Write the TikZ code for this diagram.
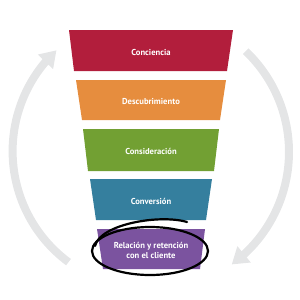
\documentclass[tikz,border=0pt]{standalone}
\usepackage{fontspec}
\setmainfont{PT Sans}
\usetikzlibrary{arrows.meta,bending,calc}
\definecolor{cA}{HTML}{B21E3C}
\definecolor{cB}{HTML}{E68D3E}
\definecolor{cC}{HTML}{72A033}
\definecolor{cD}{HTML}{357F9E}
\definecolor{cE}{HTML}{7B539F}
\definecolor{ring}{HTML}{E4E5E6}
\tikzset{
  lbl/.style={text=white,font=\bfseries\fontsize{8.6}{10}\selectfont,align=center,inner sep=0pt},
  ringarrow/.style={draw=ring,line width=8pt,-{Triangle[width=20pt,length=16pt,flex]}},
  loopline/.style={draw=black,line width=2.2pt,line cap=round}
}
\begin{document}
\begin{tikzpicture}[x=1pt,y=-1pt]
\useasboundingbox (0,0) rectangle (300,300);
% funnel stages
\fill[cA] (69,30) -- (233,30) -- (227,71) -- (74,71) -- cycle;
\fill[cB] (76,80) -- (226,80) -- (220,120) -- (82,120) -- cycle;
\fill[cC] (83,129) -- (219,129) -- (214,171) -- (88,171) -- cycle;
\fill[cD] (90,179) -- (212,179) -- (206,220) -- (96,220) -- cycle;
\fill[cE] (97,229) -- (205,229) -- (200,269) -- (103,269) -- cycle;
\node[lbl] (s1) at (151,52) {Conciencia};
\node[lbl] (s2) at (151,102) {Descubrimiento};
\node[lbl] (s3) at (151,151) {Consideración};
\node[lbl] (s4) at (151,201) {Conversión};
\node[lbl] (s5) at (151,250) {Relación y retención\\con el cliente};
% ring arrows
\coordinate (c) at (150,152);
\draw[ringarrow] ($(c)+(126.5:137)$) arc[start angle=126.5,end angle=227,radius=138];
\draw[ringarrow] ($(c)+(-46.5:139)$) arc[start angle=-46.5,end angle=54,radius=139];
% hand-drawn loop
\draw[loopline] (150,251) ellipse[x radius=58,y radius=24];
\draw[loopline] (95,246) .. controls (100,224) and (160,214) .. (187,222);
\end{tikzpicture}
\end{document}
